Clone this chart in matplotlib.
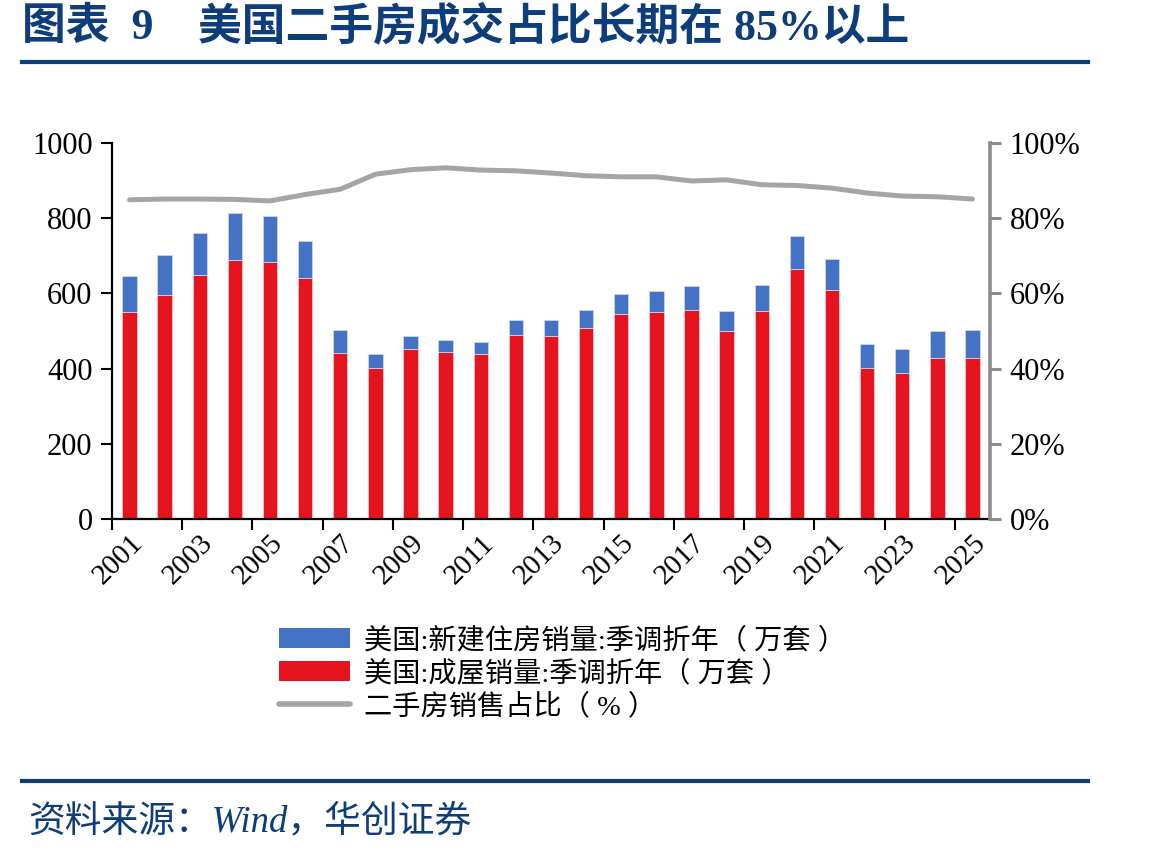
import matplotlib

matplotlib.use("Agg")

import matplotlib.pyplot as plt  # noqa: E402
import numpy as np  # noqa: E402
from matplotlib.lines import Line2D  # noqa: E402
from matplotlib.patches import Patch  # noqa: E402
from matplotlib.ticker import FixedLocator, PercentFormatter  # noqa: E402

years = list(range(2001, 2026))
# 美国成屋销量 (万套, 季调折年)
existing_sales = [550, 597, 649, 688, 684, 640, 442, 402, 453, 445, 439, 489, 487,
                  507, 546, 550, 556, 500, 553, 665, 609, 402, 388, 428, 427]
# 美国新建住房销量 (万套, 季调折年)
new_sales = [97, 105, 112, 125, 123, 100, 61, 36, 35, 32, 33, 40, 43,
             50, 53, 57, 63, 54, 70, 87, 82, 63, 65, 72, 75]
# 二手房销售占比 (%)
existing_share = [84.9, 85.1, 85.1, 85.0, 84.6, 86.3, 87.7, 91.7, 92.9, 93.4, 92.8, 92.6, 92.0,
                  91.3, 91.0, 91.0, 89.9, 90.2, 88.9, 88.7, 88.0, 86.7, 85.9, 85.7, 85.1]

NAVY = "#0E3D7C"
BLUE = "#4472C4"
RED = "#E5141E"
GREY = "#A5A5A5"
MIXED = ["Liberation Serif", "Noto Sans CJK SC"]

plt.rcParams["font.family"] = MIXED

W, H = 1149, 857
fig = plt.figure(figsize=(W / 100, H / 100), dpi=100)
ax = fig.add_axes([112 / W, 1 - 519 / H, (990 - 112) / W, (519 - 143) / H])

x = np.arange(len(years))
ax.bar(x, existing_sales, width=0.41, color=RED, edgecolor="#F3C6C8", linewidth=0.6, zorder=2)
ax.bar(x, new_sales, bottom=existing_sales, width=0.41, color=BLUE,
       edgecolor="#CAD7F0", linewidth=0.6, zorder=2)
ax.set_xlim(-0.5, len(years) - 0.5)
ax.set_ylim(0, 1000)
ax.set_yticks(range(0, 1001, 200))

ax2 = ax.twinx()
ax2.plot(x, existing_share, color=GREY, linewidth=3.6, solid_capstyle="round", zorder=3)
ax2.set_ylim(0, 100)
ax2.set_yticks(range(0, 101, 20))
ax2.yaxis.set_major_formatter(PercentFormatter(decimals=0))

# tick marks on category boundaries, labels on every other year
ax.xaxis.set_major_locator(FixedLocator(np.arange(-0.5, len(years) - 1, 2)))
ax.set_xticklabels([])
ax.xaxis.set_minor_locator(FixedLocator(x[::2]))
ax.set_xticklabels([str(y) for y in years[::2]], minor=True, rotation=45,
                   ha="right", rotation_mode="anchor", fontsize=21)
ax.tick_params(axis="x", which="minor", length=0, pad=8)
ax.tick_params(axis="x", which="major", direction="out", length=8, width=1.5, color="black")
ax.tick_params(axis="y", direction="out", length=8, width=1.5, labelsize=22, pad=6)
ax2.tick_params(axis="y", direction="out", length=8, width=2.2, color="#8C8C8C",
                labelsize=22, pad=6)

for name in ("top", "right"):
    ax.spines[name].set_visible(False)
for name in ("top", "left", "bottom"):
    ax2.spines[name].set_visible(False)
ax.spines["left"].set_linewidth(1.6)
ax.spines["bottom"].set_linewidth(1.6)
ax2.spines["right"].set_color("#8C8C8C")
ax2.spines["right"].set_linewidth(2.6)

handles = [
    Patch(facecolor=BLUE, edgecolor="none"),
    Patch(facecolor=RED, edgecolor="none"),
    Line2D([], [], color=GREY, linewidth=4, solid_capstyle="round"),
]
labels = [
    "美国:新建住房销量:季调折年（ 万套 ）",
    "美国:成屋销量:季调折年（ 万套 ）",
    "二手房销售占比（ % ）",
]
fig.legend(handles, labels, loc="upper left", bbox_to_anchor=(268 / W, 1 - 616 / H),
           frameon=False, fontsize=20.3, handlelength=2.5, handletextpad=0.5,
           labelspacing=0.22, borderaxespad=0)

# title and rules
fig.text(22 / W, 1 - 27 / H, "图表  9", fontsize=31.5, fontweight="bold", color=NAVY, va="center")
fig.text(198 / W, 1 - 27 / H, "美国二手房成交占比长期在 85%以上", fontsize=31.5,
         fontweight="bold", color=NAVY, va="center")
fig.add_artist(Line2D([22 / W, 1088 / W], [1 - 62 / H] * 2, color=NAVY, linewidth=3))
fig.add_artist(Line2D([22 / W, 1088 / W], [1 - 781 / H] * 2, color=NAVY, linewidth=3))
fig.text(28 / W, 1 - 822 / H, "资料来源：Wind，华创证券", fontsize=26.5, style="italic",
         color=NAVY, va="center")

fig.savefig("out.png", dpi=100)
